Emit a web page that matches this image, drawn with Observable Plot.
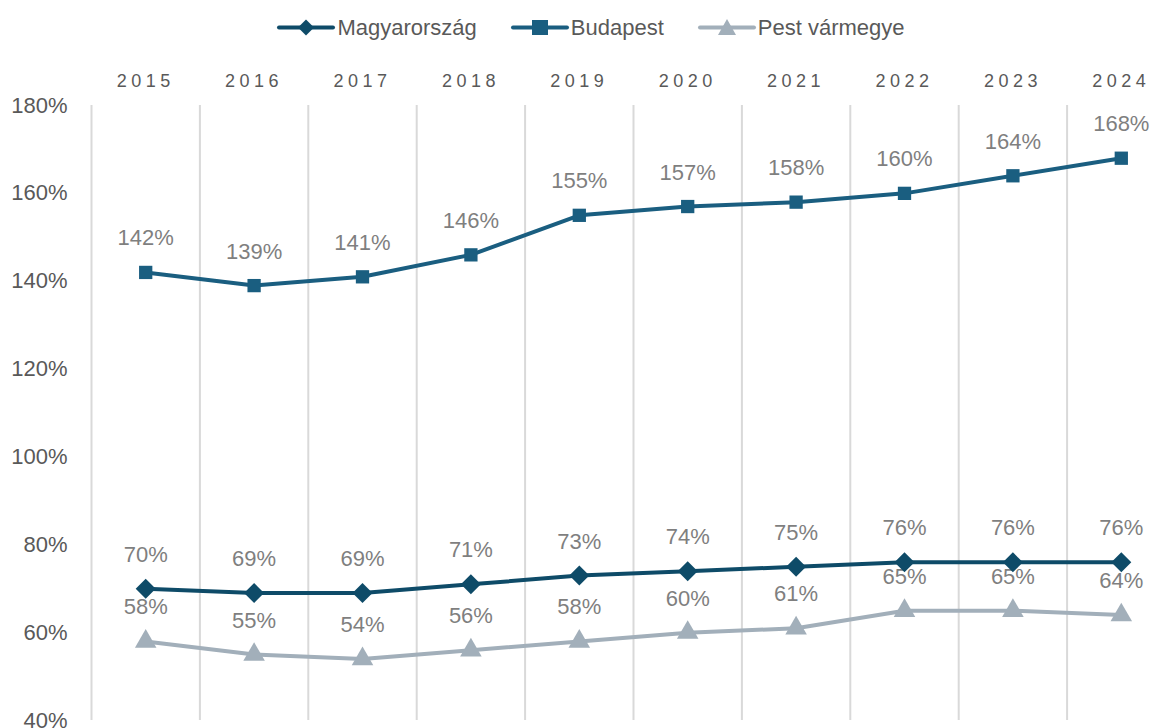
<!DOCTYPE html>
<html><head><meta charset="utf-8">
<script src="https://cdn.jsdelivr.net/npm/d3@7"></script>
<script src="https://cdn.jsdelivr.net/npm/@observablehq/plot@0.6"></script>
<style>
body{margin:0;background:#fff;font-family:"Liberation Sans",Arial,sans-serif;}
#legend{height:55px;display:flex;justify-content:center;align-items:center;gap:34px;font-size:22px;color:#595959;padding-left:14px;box-sizing:border-box;}
.item{display:flex;align-items:center;gap:2px}
g[aria-label="x-axis tick label"] text{letter-spacing:4.5px}
svg{overflow:visible}
</style></head><body>
<div id="legend"></div><div id="chart"></div>
<script>
const years=[2015,2016,2017,2018,2019,2020,2021,2022,2023,2024];
const magyarorszag=[70,69,69,71,73,74,75,76,76,76];
const budapest=[142,139,141,146,155,157,158,160,164,168];
const pestVarmegye=[58,55,54,56,58,60,61,65,65,64];
const seriesNames=["Magyarország","Budapest","Pest vármegye"];
const seriesColors=["#0e4b68","#1a5e80","#a2afba"];
const seriesSymbols=["diamond2","square","triangle"];
const yTicks=[40,60,80,100,120,140,160,180];

const seriesValues=[magyarorszag,budapest,pestVarmegye];
const data=[];
seriesNames.forEach((s,i)=>years.forEach((y,j)=>data.push({series:s,year:y,value:seriesValues[i][j]})));
const gridX=years.map(y=>y-0.5).concat([years[years.length-1]+0.5]);

// legend
const legend=document.getElementById("legend");
const symPaths={
  diamond2:'<path d="M29,2.5 L37,10.5 L29,18.5 L21,10.5Z"/>',
  square:'<rect x="21" y="3" width="16" height="15"/>',
  triangle:'<path d="M29,2 L38,18 L20,18Z"/>'
};
seriesNames.forEach((s,i)=>{
  const c=seriesColors[i];
  const el=document.createElement("div");el.className="item";
  el.innerHTML=`<svg width="58" height="21" style="overflow:visible"><line x1="2" x2="56" y1="10.5" y2="10.5" stroke="${c}" stroke-width="4" stroke-linecap="round"/><g fill="${c}">${symPaths[seriesSymbols[i]]}</g></svg><span>${s}</span>`;
  legend.appendChild(el);
});

const sizes={"Magyarország":9,"Budapest":7.5,"Pest vármegye":8};
const chart=Plot.plot({
  width:1168,height:673,
  marginTop:50,marginLeft:91,marginRight:0,marginBottom:8,
  style:{fontFamily:'"Liberation Sans",Arial,sans-serif',overflow:"visible"},
  x:{domain:[2014.5,2024.5],range:[91,1175]},
  y:{domain:[40,180],range:[665,50]},
  color:{domain:seriesNames,range:seriesColors},
  symbol:{domain:seriesNames,range:seriesSymbols},
  marks:[
    Plot.ruleX(gridX,{y1:40,y2:180,stroke:"#d9d9d9",strokeWidth:2}),
    Plot.axisX({anchor:"top",ticks:years,tickFormat:d=>String(d),tickSize:0,tickPadding:19,fontSize:18,fill:"#595959",label:null}),
    Plot.axisY({anchor:"left",ticks:yTicks,tickFormat:d=>d+"%",tickSize:0,tickPadding:24,fontSize:22,fill:"#595959",label:null}),
    ...[2,0,1].flatMap(i=>{
      const s=seriesNames[i];
      const d=data.filter(r=>r.series===s);
      return [
        Plot.line(d,{x:"year",y:"value",stroke:seriesColors[i],strokeWidth:4}),
        Plot.dot(d,{x:"year",y:"value",symbol:"series",fill:seriesColors[i],stroke:"none",r:sizes[s]}),
        Plot.text(d,{x:"year",y:"value",text:r=>r.value+"%",dy:-34,fill:"#7f7f7f",fontSize:22})
      ];
    })
  ]
});
document.getElementById("chart").appendChild(chart);
</script>
</body></html>
